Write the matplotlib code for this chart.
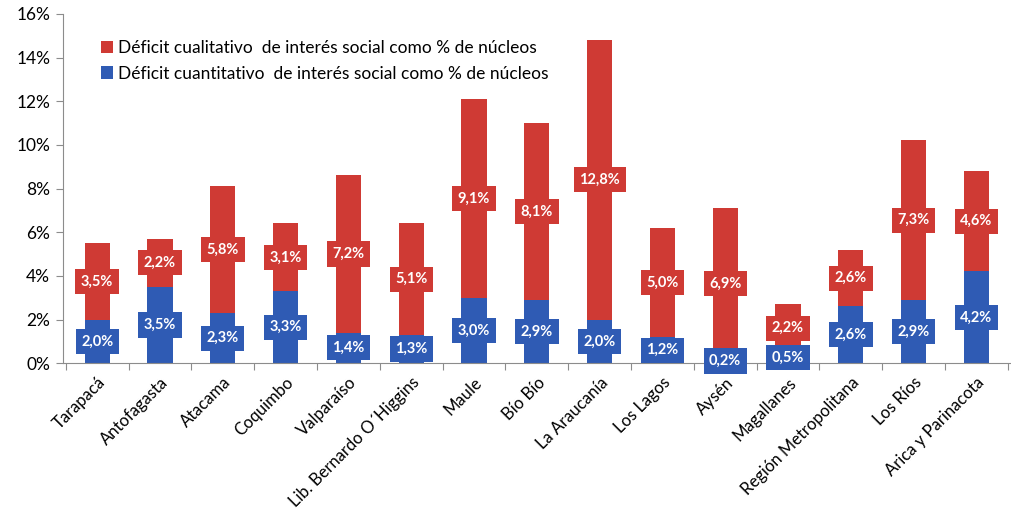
import matplotlib
matplotlib.use('Agg')
import matplotlib.pyplot as plt
import numpy as np

# Déficit habitacional de interés social por región (% de núcleos)
regiones = ['Tarapacá', 'Antofagasta', 'Atacama', 'Coquimbo', 'Valparaíso',
            'Lib. Bernardo O´Higgins', 'Maule', 'Bío Bío', 'La Araucanía',
            'Los Lagos', 'Aysén', 'Magallanes', 'Región Metropolitana',
            'Los Ríos', 'Arica y Parinacota']
cuantitativo = [2.0, 3.5, 2.3, 3.3, 1.4, 1.3, 3.0, 2.9, 2.0, 1.2, 0.2, 0.5, 2.6, 2.9, 4.2]
cualitativo = [3.5, 2.2, 5.8, 3.1, 7.2, 5.1, 9.1, 8.1, 12.8, 5.0, 6.9, 2.2, 2.6, 7.3, 4.6]

ROJO = '#cf3a34'
AZUL = '#2f5bb4'
GRIS = '#8c8c8c'

plt.rcParams['font.family'] = ['Lato', 'DejaVu Sans']

fig = plt.figure(figsize=(10.11, 5.13), dpi=100)
ax = fig.add_axes([0.062, 0.292, 0.938, 0.681])

x = np.arange(len(regiones))
cuant = np.array(cuantitativo)
cual = np.array(cualitativo)

ax.bar(x, cuant, width=0.4, color=AZUL, zorder=2,
       label='Déficit cuantitativo  de interés social como % de núcleos')
ax.bar(x, cual, width=0.4, bottom=cuant, color=ROJO, zorder=2,
       label='Déficit cualitativo  de interés social como % de núcleos')

def etiqueta(xi, yi, valor, color):
    ax.text(xi, yi, '{:.1f}%'.format(valor).replace('.', ','),
            ha='center', va='center', color='white', fontsize=10.5,
            fontweight='bold', zorder=3,
            bbox=dict(boxstyle='square,pad=0.38', fc=color, ec='none'))

for xi, b, r in zip(x, cuant, cual):
    etiqueta(xi, b / 2, b, AZUL)
    etiqueta(xi, b + r / 2, r, ROJO)

ax.set_ylim(0, 16)
ax.set_yticks(np.arange(0, 17, 2))
ax.set_yticklabels(['{}%'.format(v) for v in range(0, 17, 2)], fontsize=12.5)
ax.set_xlim(-0.55, len(regiones) - 0.45)

# ticks between categories, labels centered under each bar
ax.set_xticks(np.arange(len(regiones) + 1) - 0.5)
ax.set_xticklabels([])
ax.set_xticks(x, minor=True)
ax.set_xticklabels(regiones, minor=True, rotation=45, ha='right',
                   rotation_mode='anchor', fontsize=12)
ax.tick_params(axis='x', which='minor', length=0, pad=8)
ax.tick_params(axis='x', which='major', length=5, color=GRIS, direction='out')
ax.tick_params(axis='y', length=5, color=GRIS, direction='out', pad=4)

for s in ['top', 'right']:
    ax.spines[s].set_visible(False)
for s in ['left', 'bottom']:
    ax.spines[s].set_color(GRIS)

handles, labels = ax.get_legend_handles_labels()
ax.legend(handles[::-1], labels[::-1], loc='upper left',
          bbox_to_anchor=(0.024, 0.97), frameon=False, fontsize=12.5,
          handlelength=0.7, handleheight=0.7, handletextpad=0.3,
          labelspacing=0.55)

fig.savefig('out.png', dpi=100)
